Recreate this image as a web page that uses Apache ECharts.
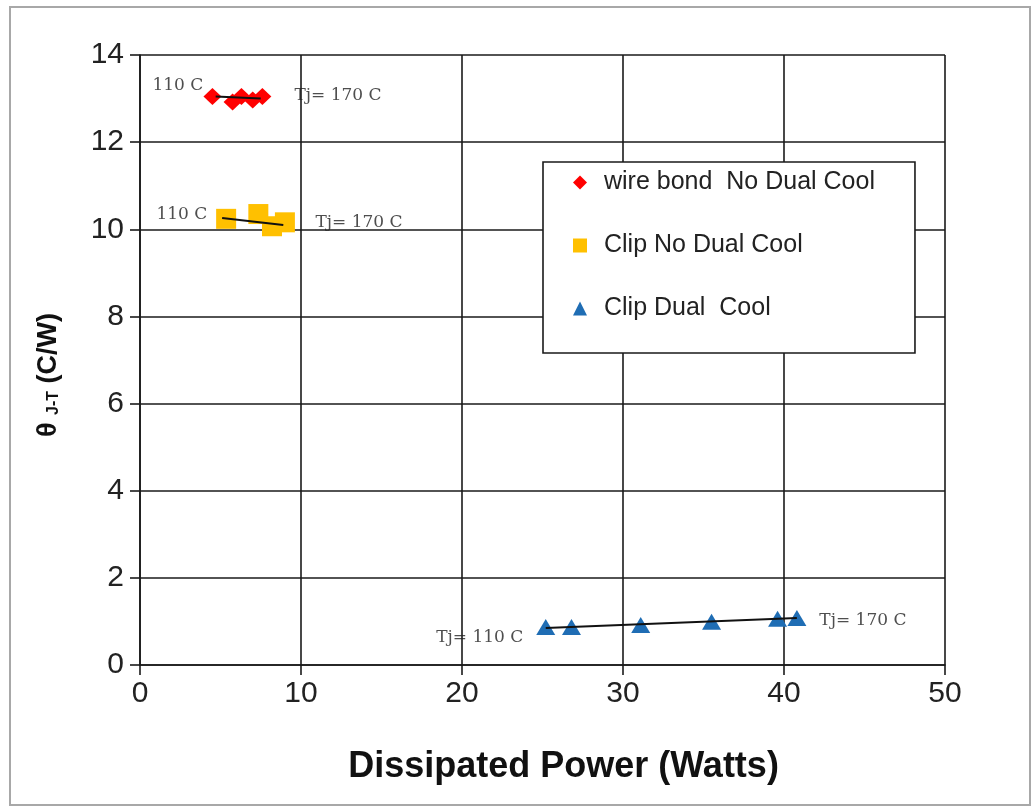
<!DOCTYPE html>
<html>
<head>
<meta charset="utf-8">
<script src="https://cdn.jsdelivr.net/npm/echarts@6/dist/echarts.min.js"></script>
<style>
  html, body { margin: 0; padding: 0; background: #fff; }
  #chart { width: 1033px; height: 809px; }
</style>
</head>
<body>
<div id="chart"></div>
<script>
// Thermal resistance vs dissipated power for three package types
const seriesNames = ['wire bond  No Dual Cool', 'Clip No Dual Cool', 'Clip Dual  Cool'];

// [power (W), theta J-T (C/W)]
const wireBondPoints = [[4.5, 13.05], [5.75, 12.92], [6.3, 13.05], [7.0, 12.97], [7.6, 13.05]];
const clipNoDualPoints = [[5.35, 10.24], [7.35, 10.35], [8.2, 10.07], [9.0, 10.16]];
const clipDualPoints = [[25.2, 0.87], [26.8, 0.87], [31.1, 0.92], [35.5, 0.99], [39.6, 1.06], [40.8, 1.08]];

// straight trend lines from Tj = 110 C to Tj = 170 C
const wireBondTrend = [[4.7, 13.05], [7.5, 13.0]];
const clipNoDualTrend = [[5.1, 10.26], [8.9, 10.1]];
const clipDualTrend = [[25.2, 0.85], [40.8, 1.08]];

// temperature annotations placed in data coordinates
const noteTexts = ['110 C', 'Tj= 170 C', '110 C', 'Tj= 170 C', 'Tj= 110 C', 'Tj= 170 C'];
const notePositions = [[2.35, 13.3], [12.3, 13.06], [2.6, 10.33], [13.6, 10.15], [21.1, 0.64], [44.9, 1.01]];

const xTicks = { min: 0, max: 50, interval: 10 };
const yTicks = { min: 0, max: 14, interval: 2 };

const colors = ['#FF0000', '#FFC000', '#1F6DB4'];
const symbols = ['diamond', 'rect', 'triangle'];
const symbolSizes = [[18, 17], [20, 20], [19, 16]];

const chart = echarts.init(document.getElementById('chart'), null, { renderer: 'canvas' });

const gridLine = { show: true, lineStyle: { color: '#1a1a1a', width: 1.6 } };

const pointSets = [wireBondPoints, clipNoDualPoints, clipDualPoints];
const trendSets = [wireBondTrend, clipNoDualTrend, clipDualTrend];

const series = [];
pointSets.forEach((pts, i) => {
  series.push({
    name: seriesNames[i],
    type: 'scatter',
    data: pts,
    symbol: symbols[i],
    symbolSize: symbolSizes[i],
    itemStyle: { color: colors[i], opacity: 1 },
    z: 3
  });
});
trendSets.forEach((pts) => {
  series.push({
    type: 'line',
    data: pts,
    symbol: 'none',
    lineStyle: { color: '#111', width: 2 },
    silent: true,
    z: 4
  });
});
series.push({
  type: 'scatter',
  data: notePositions.map((p, i) => ({ value: p, name: noteTexts[i] })),
  symbolSize: 0,
  silent: true,
  label: {
    show: true,
    position: 'inside',
    formatter: (p) => p.name,
    fontFamily: 'DejaVu Serif',
    fontSize: 17,
    color: '#222'
  },
  z: 5
});

chart.setOption({
  animation: false,
  backgroundColor: '#fff',
  grid: { left: 140, top: 55, right: 88, bottom: 144, containLabel: false },
  xAxis: {
    type: 'value',
    min: xTicks.min, max: xTicks.max, interval: xTicks.interval,
    name: 'Dissipated Power (Watts)',
    nameLocation: 'middle',
    nameGap: 84,
    nameTextStyle: { fontFamily: 'Liberation Sans', fontWeight: 'bold', fontSize: 36, color: '#111', padding: [0, 0, 0, 42] },
    axisLine: { show: true, onZero: false, lineStyle: { color: '#1a1a1a', width: 1.6 } },
    axisTick: { show: true, inside: false, length: 10, lineStyle: { color: '#1a1a1a', width: 1.6 } },
    axisLabel: { fontFamily: 'Liberation Sans', fontSize: 30, color: '#222', margin: 14 },
    splitLine: gridLine
  },
  yAxis: {
    type: 'value',
    min: yTicks.min, max: yTicks.max, interval: yTicks.interval,
    name: '{t|θ }{s|J-T}{t| (C/W)}',
    nameLocation: 'middle',
    nameGap: 78,
    nameTextStyle: {
      padding: [0, 30, 0, 0],
      rich: {
        t: { fontFamily: 'Liberation Sans', fontWeight: 'bold', fontSize: 27, color: '#111' },
        s: { fontFamily: 'Liberation Sans', fontWeight: 'bold', fontSize: 16, color: '#111', verticalAlign: 'bottom', padding: [8, 0, 0, 0] }
      }
    },
    axisLine: { show: true, onZero: false, lineStyle: { color: '#1a1a1a', width: 1.6 } },
    axisTick: { show: true, inside: false, length: 10, lineStyle: { color: '#1a1a1a', width: 1.6 } },
    axisLabel: { fontFamily: 'Liberation Sans', fontSize: 30, color: '#222', margin: 16 },
    splitLine: gridLine
  },
  legend: {
    data: seriesNames,
    orient: 'vertical',
    left: 543,
    top: 162,
    padding: [8, 40, 32, 30],
    itemGap: 38,
    itemWidth: 14,
    itemHeight: 14,
    backgroundColor: '#fff',
    borderColor: '#1a1a1a',
    borderWidth: 1.6,
    borderRadius: 0,
    itemStyle: { opacity: 1 },
    textStyle: { fontFamily: 'Liberation Sans', fontSize: 25, lineHeight: 24, color: '#222', padding: [0, 0, 0, 12] }
  },
  graphic: [{
    type: 'rect',
    shape: { x: 10, y: 7, width: 1020, height: 798 },
    style: { fill: null, stroke: '#a8a8a8', lineWidth: 2 },
    silent: true,
    z: -10
  }],
  series: series
});
</script>
</body>
</html>
